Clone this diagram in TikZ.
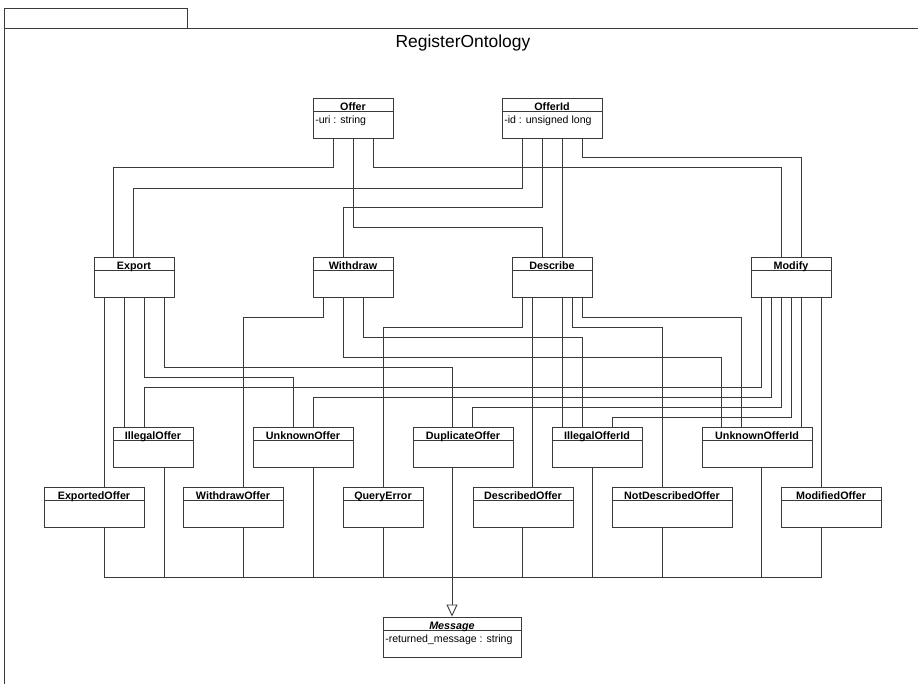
\documentclass[tikz,border=0pt]{standalone}
\usepackage{fontspec}
\setmainfont{Liberation Sans}
\usetikzlibrary{arrows.meta}
\definecolor{umlLine}{HTML}{3A3A3A}

\begin{document}
\begin{tikzpicture}[x=1bp,y=-1bp,
  cls/.style={draw=umlLine,fill=white,line width=0.9bp,minimum width=#1bp,
              inner sep=0pt,text height=12.6bp,text depth=27.4bp,
              font=\fontsize{10.8}{12}\selectfont\bfseries,
              path picture={\draw[umlLine,line width=0.9bp]
                ([yshift=-13.5bp]path picture bounding box.north west) --
                ([yshift=-13.5bp]path picture bounding box.north east);}},
  attr/.style={anchor=base west,inner sep=0pt,font=\fontsize{10.6}{12}\selectfont},
  link/.style={umlLine,line width=0.9bp},
  gen/.style={link,-{Triangle[open,length=12bp,width=11bp]}}]
\useasboundingbox (0,0) rectangle (918,684);

% package frame and its name tab
\draw[link] (918,28) -- (4,28) -- (4,690);
\draw[link] (4,28) -- (4,8) -- (187,8) -- (187,28);
\node[anchor=base,inner sep=0pt,font=\fontsize{17.5}{20}\selectfont] (title) at (463,48) {RegisterOntology};

% concepts
\node[cls=80]  (offer)   at (353,118) {Offer};
\node[cls=100] (offerid) at (552,118) {OfferId};
\node[attr] (offerattr)   at ([shift={(2.5,26)}]offer.north west)   {-uri : string};
\node[attr] (offeridattr) at ([shift={(2.5,26)}]offerid.north west) {-id : unsigned long};

% actions
\node[cls=80] (export)   at (134,277) {Export};
\node[cls=80] (withdraw) at (353,277) {Withdraw};
\node[cls=80] (describe) at (552,277) {Describe};
\node[cls=80] (modify)   at (791,277) {Modify};

% replies
\node[cls=80]  (illegaloffer)      at (153,447) {IllegalOffer};
\node[cls=100] (unknownoffer)      at (303,447) {UnknownOffer};
\node[cls=100] (duplicateoffer)    at (463,447) {DuplicateOffer};
\node[cls=90]  (illegalofferid)    at (597,447) {IllegalOfferId};
\node[cls=110] (unknownofferid)    at (757,447) {UnknownOfferId};
\node[cls=100] (exportedoffer)     at (94,507)  {ExportedOffer};
\node[cls=100] (withdrawoffer)     at (233,507) {WithdrawOffer};
\node[cls=80]  (queryerror)        at (383,507) {QueryError};
\node[cls=100] (describedoffer)    at (523,507) {DescribedOffer};
\node[cls=120] (notdescribedoffer) at (672,507) {NotDescribedOffer};
\node[cls=100] (modifiedoffer)     at (831,507) {ModifiedOffer};

\node[cls=138,font=\fontsize{10.8}{12}\selectfont\bfseries\itshape] (message) at (452,637) {Message};
\node[attr] (messageattr) at ([shift={(2.5,26)}]message.north west) {-returned\_message : string};

% Offer / OfferId used by the actions
\draw[link] (offer.south -| 333,0) |- (113,167) -- (export.north -| 113,0);
\draw[link] (offerid.south -| 522,0) |- (133,188) -- (export.north -| 133,0);
\draw[link] (offer.south -| 353,0) |- (542,227) -- (describe.north -| 542,0);
\draw[link] (offerid.south -| 542,0) |- (343,207) -- (withdraw.north -| 343,0);
\draw[link] (offerid.south -| 562,0) -- (describe.north -| 562,0);
\draw[link] (offer.south -| 373,0) |- (781,167) -- (modify.north -| 781,0);
\draw[link] (offerid.south -| 582,0) |- (801,157) -- (modify.north -| 801,0);

% Export
\draw[link] (export.south -| 104,0) -- (exportedoffer.north -| 104,0);
\draw[link] (export.south -| 124,0) -- (illegaloffer.north -| 124,0);
\draw[link] (export.south -| 144,0) |- (293,377) -- (unknownoffer.north -| 293,0);
\draw[link] (export.south -| 164,0) |- (452,367) -- (duplicateoffer.north -| 452,0);

% Withdraw
\draw[link] (withdraw.south -| 323,0) |- (243,317) -- (withdrawoffer.north -| 243,0);
\draw[link] (withdraw.south -| 343,0) |- (721,357) -- (unknownofferid.north -| 721,0);
\draw[link] (withdraw.south -| 363,0) |- (582,337) -- (illegalofferid.north -| 582,0);

% Describe
\draw[link] (describe.south -| 522,0) |- (383,327) -- (queryerror.north -| 383,0);
\draw[link] (describe.south -| 532,0) -- (describedoffer.north -| 532,0);
\draw[link] (describe.south -| 562,0) -- (illegalofferid.north -| 562,0);
\draw[link] (describe.south -| 572,0) |- (662,327) -- (notdescribedoffer.north -| 662,0);
\draw[link] (describe.south -| 582,0) |- (741,317) -- (unknownofferid.north -| 741,0);

% Modify
\draw[link] (modify.south -| 761,0) |- (144,387) -- (illegaloffer.north -| 144,0);
\draw[link] (modify.south -| 771,0) |- (313,397) -- (unknownoffer.north -| 313,0);
\draw[link] (modify.south -| 781,0) |- (472,407) -- (duplicateoffer.north -| 472,0);
\draw[link] (modify.south -| 791,0) |- (612,417) -- (illegalofferid.north -| 612,0);
\draw[link] (modify.south -| 801,0) -- (unknownofferid.north -| 801,0);
\draw[link] (modify.south -| 821,0) -- (modifiedoffer.north -| 821,0);

% every reply is a Message
\coordinate (bus) at (0,577);
\draw[link] (exportedoffer.south -| 104,0) -- (bus -| 104,0) -- (bus -| 821,0) -- (modifiedoffer.south -| 821,0);
\foreach \n/\x in {illegaloffer/164,withdrawoffer/243,unknownoffer/313,queryerror/383,
                   describedoffer/522,illegalofferid/592,notdescribedoffer/662,unknownofferid/761}
  \draw[link] (\n.south -| \x,0) -- (bus -| \x,0);
\draw[gen] (duplicateoffer.south -| 452,0) -- (message.north);
\end{tikzpicture}
\end{document}
